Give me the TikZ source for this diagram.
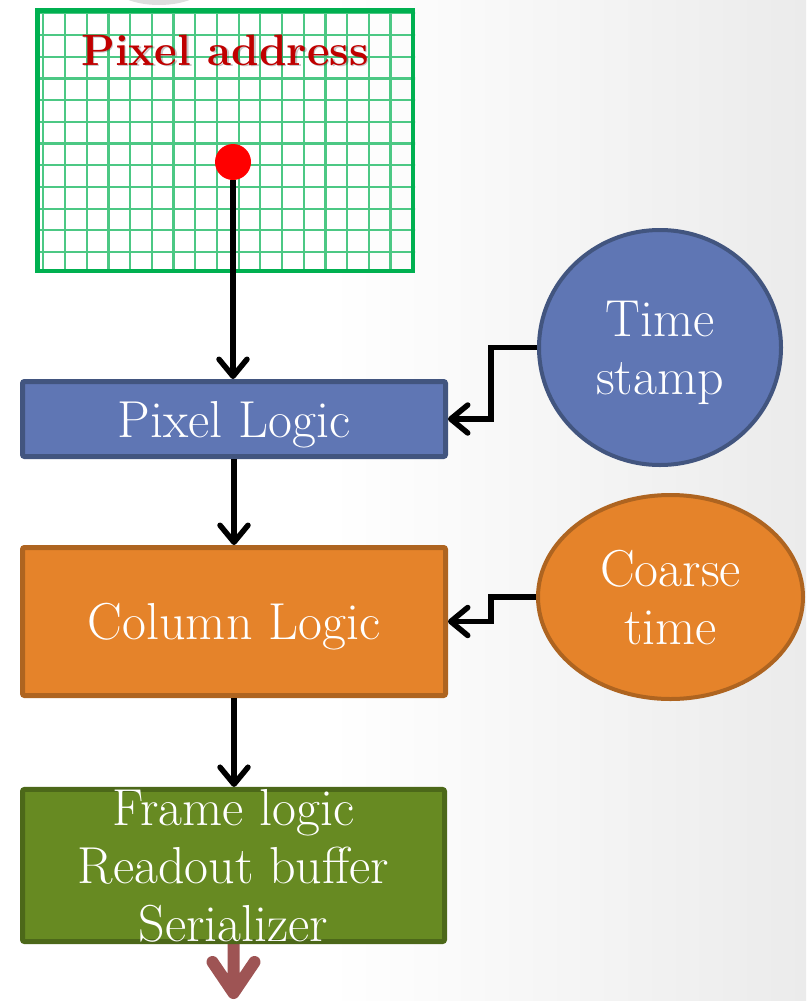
\documentclass[tikz,border=0pt]{standalone}
\usepackage{fontspec}
\usetikzlibrary{arrows.meta,shapes.geometric,calc}
\pgfdeclarelayer{backdrop}
\pgfdeclarelayer{under}
\pgfsetlayers{backdrop,under,main}
\definecolor{bgR}{HTML}{EBEBEB}
\definecolor{gridG}{HTML}{00B050}
\definecolor{blueF}{HTML}{5F76B4}
\definecolor{blueD}{HTML}{42557F}
\definecolor{orF}{HTML}{E5832A}
\definecolor{orD}{HTML}{AE6420}
\definecolor{grF}{HTML}{678A22}
\definecolor{grD}{HTML}{4C6819}
\definecolor{darkred}{HTML}{C00000}
\definecolor{outB}{HTML}{9E5454}
\begin{document}
\begin{tikzpicture}[x=1pt,y=-1pt,
  bigtext/.style={text=white, font=\fontsize{52}{58}\selectfont, align=center, text depth=0pt},
  blockbox/.style={rectangle, draw, line width=5pt, rounded corners=2pt, inner sep=0pt, bigtext},
  oval/.style={ellipse, draw, line width=4pt, inner sep=0pt, bigtext},
  gridl/.style={draw=gridG!70, line width=2.2pt},
  arr/.style={draw=black, line width=5.5pt, -{Straight Barb[round,length=17pt,width=28pt]}},
  brownarr/.style={draw=outB, line width=12pt, line cap=round, line join=round}
]
\useasboundingbox (0,0) rectangle (806,1001);
\begin{pgfonlayer}{backdrop}
  \fill[white] (0,0) rectangle (330,1001);
  \shade[left color=white, right color=bgR] (330,0) rectangle (806,1001);
  % faint shape at the top edge
  \fill[black!13] (159,-19) ellipse (50 and 24);
\end{pgfonlayer}

% pixel grid
\begin{scope}
  \clip (36,9) rectangle (415,272);
  \foreach \i in {0,...,17} \draw[gridl] ({43.3+21.7*\i},0) -- ({43.3+21.7*\i},280);
  \foreach \j in {0,...,12} \draw[gridl] (30,{13.3+21.7*\j}) -- (420,{13.3+21.7*\j});
\end{scope}
\node[draw=gridG, line width=4.5pt, minimum width=375.5pt, minimum height=260.5pt, inner sep=0pt] (grid) at (225,140.5) {};

\node[anchor=base, text=black, opacity=0.22, font=\fontsize{44}{50}\selectfont\bfseries] (pashadow) at (226.5,66.5) {Pixel address};
\node[anchor=base, text=darkred, font=\fontsize{44}{50}\selectfont\bfseries] (pa) at (225,65) {Pixel address};

\node[circle, fill=red, minimum size=36pt, inner sep=0pt] (dot) at (233,162) {};

% blocks
\node[blockbox, fill=blueF, draw=blueD, minimum width=423pt, minimum height=75pt] (pl) at (234,419) {Pixel Logic};
\node[blockbox, fill=orF, draw=orD, minimum width=423pt, minimum height=148pt] (cl) at (234,621.5) {Column Logic};
\node[blockbox, fill=grF, draw=grD, minimum width=422pt, minimum height=150pt] (fb) at (233.5,865.5) {Frame logic\\Readout buffer\\Serializer};

\node[oval, fill=blueF, draw=blueD, minimum width=242pt, minimum height=235pt] (ts) at (660,347.5) {Time\\stamp};
\node[oval, fill=orF, draw=orD, minimum width=265pt, minimum height=204pt] (ct) at (670.5,597) {Coarse\\time};

% connectors
\draw[arr] (dot) -- (dot |- pl.north);
\draw[arr] (pl.south) -- (cl.north);
\draw[arr] (cl.south) -- (cl.south |- fb.north);

\coordinate (tsbend) at (491,347.5);
\coordinate (ctbend) at (491,597);
\draw[arr] (ts.west) -- (tsbend) |- (pl.east);
\draw[arr] (ct.west) -- (ctbend) |- (cl.east);

\coordinate (out) at (233.5,993);
\begin{pgfonlayer}{under}
  \draw[brownarr] (fb.south) -- (out) ++(-21,-31) -- (out) -- ++(21,-31);
\end{pgfonlayer}
\end{tikzpicture}
\end{document}
